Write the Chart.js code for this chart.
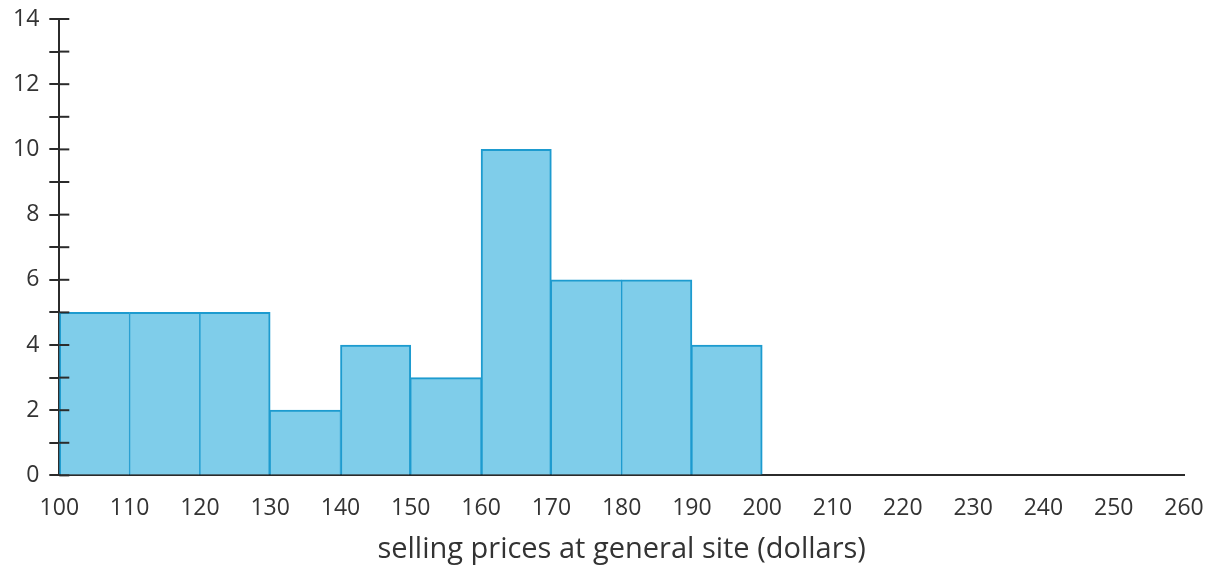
<!DOCTYPE html>
<html>
<head>
<meta charset="utf-8">
<script src="https://cdn.jsdelivr.net/npm/chart.js@4/dist/chart.umd.min.js"></script>
<style>
  body { margin: 0; background: #fff; }
  #wrap { width: 1209px; height: 565px; }
</style>
</head>
<body>
<div id="wrap"><canvas id="hist"></canvas></div>
<script>
// bins of 10 dollars, starting at these prices
const binStarts = [100, 110, 120, 130, 140, 150, 160, 170, 180, 190];
const counts = [5, 5, 5, 2, 4, 3, 10, 6, 6, 4];
const xTitle = 'selling prices at general site (dollars)';

const binWidth = 10;
const points = binStarts.map((s, i) => ({ x: s + binWidth / 2, y: counts[i] }));

const axisColor = '#2b2b2b';
const textColor = '#333333';
const fontFamily = '"Open Sans", "Noto Sans", sans-serif';

// y tick marks cross the axis line: draw the inner half here
const innerTicks = {
  id: 'innerTicks',
  afterDatasetsDraw(chart) {
    const y = chart.scales.y;
    const ctx = chart.ctx;
    ctx.save();
    ctx.strokeStyle = axisColor;
    ctx.lineWidth = 2;
    y.ticks.forEach(t => {
      const py = y.getPixelForValue(t.value);
      ctx.beginPath();
      ctx.moveTo(y.right, py);
      ctx.lineTo(y.right + 10, py);
      ctx.stroke();
    });
    ctx.restore();
  }
};

new Chart(document.getElementById('hist'), {
  type: 'bar',
  data: {
    datasets: [{
      data: points,
      backgroundColor: '#7fcdea',
      borderColor: '#1d9bcf',
      borderWidth: ctx => {
        const i = ctx.dataIndex;
        const n = counts.length;
        return {
          top: 2,
          bottom: 0,
          left: (i === 0 || counts[i - 1] < counts[i]) ? 2 : 1,
          right: (i === n - 1 || counts[i + 1] < counts[i]) ? 2 : 1
        };
      },
      borderSkipped: false,
      barPercentage: 1,
      categoryPercentage: 1
    }]
  },
  options: {
    responsive: true,
    maintainAspectRatio: false,
    animation: false,
    layout: { padding: { left: 3, right: 0, top: 0, bottom: 1 } },
    plugins: {
      legend: { display: false },
      tooltip: { enabled: false }
    },
    scales: {
      x: {
        type: 'linear',
        min: 100,
        max: 260,
        offset: false,
        afterFit: s => { s.paddingRight = 25; },
        grid: { display: false },
        border: { display: true, color: axisColor, width: 2 },
        ticks: {
          stepSize: 10,
          autoSkip: false,
          maxRotation: 0,
          padding: 11,
          color: textColor,
          font: { family: fontFamily, size: 23 }
        },
        title: {
          display: true,
          text: xTitle,
          color: textColor,
          padding: { top: 2, bottom: 0 },
          font: { family: fontFamily, size: 29, lineHeight: 1.0 }
        }
      },
      y: {
        min: 0,
        max: 14,
        afterFit: s => { s.paddingTop = 19; },
        grid: {
          display: true,
          drawOnChartArea: false,
          drawTicks: true,
          tickLength: 10,
          color: axisColor,
          lineWidth: 2
        },
        border: { display: true, color: axisColor, width: 2 },
        ticks: {
          stepSize: 1,
          autoSkip: false,
          padding: 10,
          color: textColor,
          font: { family: fontFamily, size: 23 },
          callback: v => (v % 2 === 0 ? v : '')
        }
      }
    }
  },
  plugins: [innerTicks]
});
</script>
</body>
</html>
